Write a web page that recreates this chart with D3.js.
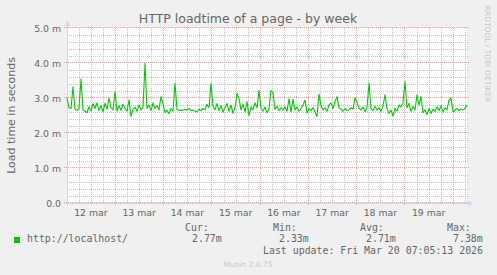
<!DOCTYPE html>
<html>
<head>
<meta charset="utf-8">
<script src="https://cdn.jsdelivr.net/npm/d3@7"></script>
<style>
  html, body { margin: 0; padding: 0; background: #F0F0F0; }
  svg { display: block; }
  text { font-family: "DejaVu Sans", sans-serif; fill: #666; }
  .mono { font-family: "DejaVu Sans Mono", monospace; }
</style>
</head>
<body>
<script>
// ---- data ------------------------------------------------------------------
var START = '2026-03-12T00:07:00Z';
var END = '2026-03-20T07:07:00Z';

// load time, milliseconds, roughly one sample per hour, left to right
var loadtime = [
  3.00, 2.72, 2.70, 3.32, 2.68, 2.64, 2.70, 3.54, 2.66, 2.62,
  2.58, 2.75, 2.62, 2.84, 2.70, 2.86, 2.64, 2.78, 2.60, 2.85,
  2.68, 3.00, 2.72, 2.66, 3.18, 2.62, 2.78, 2.65, 2.82, 2.70,
  2.62, 2.95, 2.47, 2.68, 2.74, 2.62, 2.80, 2.66, 2.72, 3.99,
  2.70, 2.80, 2.64, 2.86, 2.70, 2.78, 2.66, 3.04, 2.84, 2.58,
  2.66, 2.55, 2.70, 2.62, 3.42, 2.68, 2.64, 2.66, 2.65, 2.67,
  2.66, 2.70, 2.64, 2.66, 2.62, 2.60, 2.68, 2.64, 2.70, 2.66,
  2.82, 2.72, 3.42, 2.76, 2.66, 2.84, 2.64, 2.78, 2.60, 2.72,
  2.84, 2.62, 2.80, 2.56, 2.72, 3.13, 2.98, 2.66, 2.82, 2.60,
  2.90, 2.50, 2.74, 2.66, 2.86, 2.72, 3.21, 2.70, 2.62, 2.74,
  2.58, 2.70, 3.21, 3.15, 2.68, 2.76, 2.64, 2.72, 2.66, 2.74,
  2.62, 2.98, 2.60, 2.96, 2.66, 2.74, 2.62, 2.70, 2.80, 2.94,
  2.57, 2.70, 2.64, 2.72, 2.60, 2.47, 3.11, 2.78, 2.66, 2.72,
  2.62, 2.80, 2.86, 2.70, 2.90, 3.04, 2.72, 2.68, 2.62, 2.70,
  2.64, 2.66, 2.72, 2.68, 3.01, 2.88, 2.70, 2.66, 2.74, 2.62,
  2.72, 3.42, 2.70, 2.64, 2.76, 2.66, 2.72, 2.62, 2.78, 3.09,
  2.70, 2.56, 2.66, 2.48, 2.70, 2.62, 2.80, 2.74, 2.86, 3.47,
  2.72, 2.84, 2.62, 2.76, 2.66, 3.09, 2.80, 3.04, 2.58, 2.66,
  2.52, 2.70, 2.56, 2.68, 2.62, 2.74, 2.64, 2.78, 2.60, 2.72,
  2.66, 2.94, 3.00, 2.60, 2.66, 2.70, 2.64, 2.68, 2.66, 2.70,
  2.80
];

var yTicks = [0, 1, 2, 3, 4, 5];
var yTickLabels = ['0.0', '1.0 m', '2.0 m', '3.0 m', '4.0 m', '5.0 m'];
var dayTicks = ['2026-03-12', '2026-03-13', '2026-03-14', '2026-03-15',
  '2026-03-16', '2026-03-17', '2026-03-18', '2026-03-19'];
var dayLabels = ['12 mar', '13 mar', '14 mar', '15 mar', '16 mar', '17 mar', '18 mar', '19 mar'];

var seriesName = 'http://localhost/';
var statNames = ['Cur:', 'Min:', 'Avg:', 'Max:'];
var statValues = ['2.77m', '2.33m', '2.71m', '7.38m'];
var lastUpdate = 'Last update: Fri Mar 20 07:05:13 2026';

// ---- layout ---------------------------------------------------------------
var W = 497, H = 275;
var L = 67, R = 467, T = 28, B = 203;
var GREEN = '#00CC00';
var AXIS = '#CFD6F8';
var MINOR = '#C4C4C4';
var MAJOR = '#EFA4A4';

var t0 = new Date(START), t1 = new Date(END);
var x = d3.scaleUtc().domain([t0, t1]).range([L, R]);
var y = d3.scaleLinear().domain([0, 5]).range([B, T]);

var step = (t1 - t0) / (loadtime.length - 1);
var points = loadtime.map(function(v, i) {
  return { t: new Date(t0.getTime() + i * step), v: v };
});

var svg = d3.select('body').append('svg')
  .attr('width', W).attr('height', H);

svg.append('rect').attr('width', W).attr('height', H).attr('fill', '#F0F0F0');
svg.append('rect')
  .attr('x', L).attr('y', T).attr('width', R - L).attr('height', B - T)
  .attr('fill', '#FFFFFF');

function px(v) { return Math.round(v) + 0.5; }

var grid = svg.append('g').attr('shape-rendering', 'crispEdges');

// minor grid
var minorY = d3.range(0, 5.0001, 0.2).filter(function(v) {
  return Math.abs(v - Math.round(v)) > 1e-6;
});
grid.selectAll('.my').data(minorY).enter().append('line')
  .attr('x1', L).attr('x2', R + 2)
  .attr('y1', function(d) { return px(y(d)); })
  .attr('y2', function(d) { return px(y(d)); })
  .attr('stroke', MINOR).attr('stroke-dasharray', '1,1');

var minorX = d3.utcHour.every(6).range(t0, t1).filter(function(d) {
  return d.getUTCHours() !== 0;
});
grid.selectAll('.mx').data(minorX).enter().append('line')
  .attr('x1', function(d) { return px(x(d)); })
  .attr('x2', function(d) { return px(x(d)); })
  .attr('y1', T).attr('y2', B)
  .attr('stroke', MINOR).attr('stroke-dasharray', '1,1');

// major grid
grid.selectAll('.My').data(yTicks).enter().append('line')
  .attr('x1', L - 3).attr('x2', R + 2)
  .attr('y1', function(d) { return px(y(d)) - 1; })
  .attr('y2', function(d) { return px(y(d)) - 1; })
  .attr('stroke', MAJOR).attr('stroke-dasharray', '1,1');

var majorX = d3.utcDay.range(t0, t1);
grid.selectAll('.Mx').data(majorX).enter().append('line')
  .attr('x1', function(d) { return px(x(d)); })
  .attr('x2', function(d) { return px(x(d)); })
  .attr('y1', T).attr('y2', B + 3)
  .attr('stroke', MAJOR).attr('stroke-dasharray', '1,1');

// y tick labels
svg.selectAll('.yl').data(yTicks).enter().append('text')
  .attr('x', L - 6).attr('y', function(d) { return y(d) + 3.5; })
  .attr('text-anchor', 'end').attr('font-size', 9.3)
  .text(function(d, i) { return yTickLabels[i]; });

// x tick labels at noon
svg.selectAll('.xl').data(dayTicks).enter().append('text')
  .attr('x', function(d) { return x(d3.utcHour.offset(new Date(d + 'T00:00:00Z'), 12)); })
  .attr('y', 216).attr('text-anchor', 'middle').attr('font-size', 9.3)
  .text(function(d, i) { return dayLabels[i]; });

// axes with arrows
svg.append('line').attr('x1', L - 3).attr('x2', R + 3)
  .attr('y1', B + 0.5).attr('y2', B + 0.5)
  .attr('stroke', AXIS).attr('shape-rendering', 'crispEdges');
svg.append('line').attr('x1', L + 0.5).attr('x2', L + 0.5)
  .attr('y1', B + 3).attr('y2', T - 3)
  .attr('stroke', AXIS).attr('shape-rendering', 'crispEdges');
svg.append('path')
  .attr('d', 'M' + (R + 6) + ',' + (B + 0.5) + 'L' + (R + 1) + ',' + (B - 2.5) +
    'L' + (R + 1) + ',' + (B + 3.5) + 'Z')
  .attr('fill', AXIS);
svg.append('path')
  .attr('d', 'M' + (L + 0.5) + ',' + (T - 7) + 'L' + (L - 2.5) + ',' + (T - 2) +
    'L' + (L + 3.5) + ',' + (T - 2) + 'Z')
  .attr('fill', AXIS);

// data line
var line = d3.line()
  .x(function(d) { return x(d.t); })
  .y(function(d) { return y(d.v); });
svg.append('path').datum(points)
  .attr('d', line)
  .attr('fill', 'none').attr('stroke', GREEN).attr('stroke-width', 1.1)
  .attr('stroke-linejoin', 'round');

// titles
svg.append('text').attr('x', 248).attr('y', 23)
  .attr('text-anchor', 'middle').attr('font-size', 12.5)
  .text('HTTP loadtime of a page - by week');

svg.append('text')
  .attr('transform', 'translate(15,' + ((T + B) / 2) + ') rotate(-90)')
  .attr('text-anchor', 'middle').attr('font-size', 11)
  .text('Load time in seconds');

svg.append('text')
  .attr('transform', 'translate(485,54) rotate(90)')
  .attr('text-anchor', 'middle').attr('font-size', 7.5)
  .style('fill', '#C8C8C8')
  .text('RRDTOOL / TOBI OETIKER');

// legend
svg.append('rect').attr('x', 14).attr('y', 237).attr('width', 6).attr('height', 6)
  .attr('fill', GREEN);
svg.append('text').attr('class', 'mono').attr('x', 27).attr('y', 242)
  .attr('font-size', 9.9).text(seriesName);

var nameX = [185, 273, 360, 447];
var valX = [192, 279, 366, 453];
svg.selectAll('.sn').data(statNames).enter().append('text')
  .attr('class', 'mono').attr('font-size', 9.9)
  .attr('x', function(d, i) { return nameX[i]; }).attr('y', 231)
  .text(function(d) { return d; });
svg.selectAll('.sv').data(statValues).enter().append('text')
  .attr('class', 'mono').attr('font-size', 9.9)
  .attr('x', function(d, i) { return valX[i]; }).attr('y', 242)
  .text(function(d) { return d; });

svg.append('text').attr('class', 'mono').attr('x', 483).attr('y', 254)
  .attr('text-anchor', 'end').attr('font-size', 9.9).text(lastUpdate);

svg.append('text').attr('x', 248).attr('y', 267)
  .attr('text-anchor', 'middle').attr('font-size', 7.5)
  .style('fill', '#C8C8C8')
  .text('Munin 2.0.75');
</script>
</body>
</html>
